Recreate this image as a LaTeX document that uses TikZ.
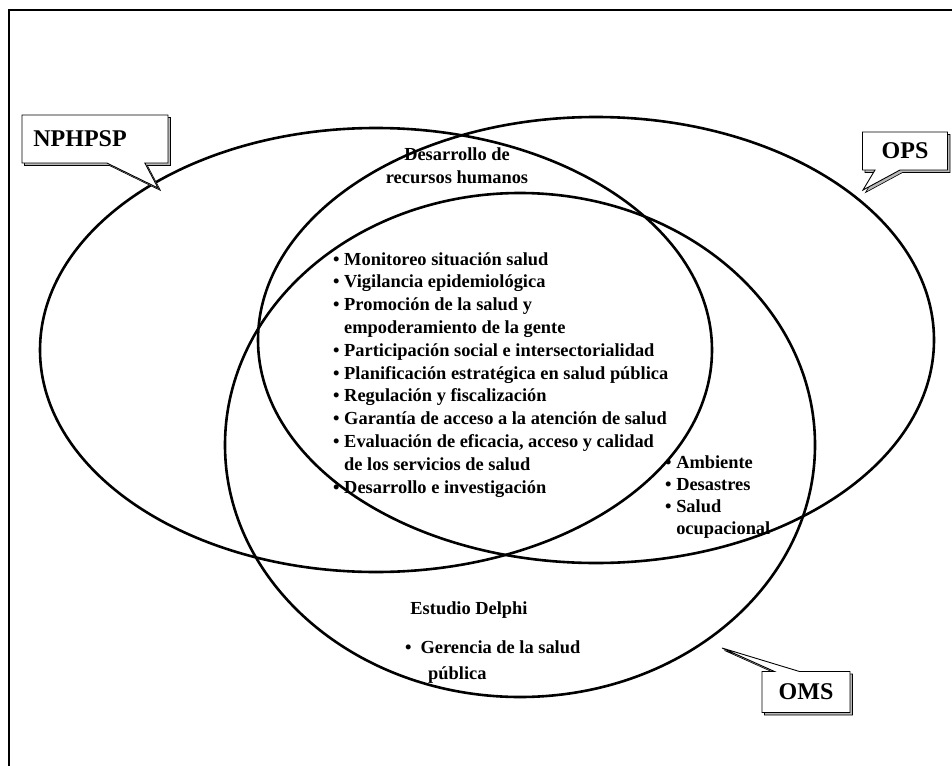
\documentclass[tikz,border=0pt]{standalone}
\usepackage{fontspec}
\setmainfont{Liberation Serif}
\usepackage{tikz}
\usetikzlibrary{shapes.callouts, shadows, positioning}

\begin{document}
\begin{tikzpicture}[x=1pt, y=-1pt, font=\bfseries]
        % Estilos
        \tikzstyle{conjunto} = [line width=2.6pt, black]
        \tikzstyle{marco} = [line width=2pt, black]
        \tikzstyle{texto} = [inner sep=0pt, align=left, font=\fontsize{18.4}{22.8}\selectfont\bfseries]
        \tikzstyle{globo} = [rectangle callout, draw=black, fill=white, line width=0.9pt, inner sep=0pt, font=\fontsize{24}{28}\selectfont\bfseries, general shadow={fill=gray!55, draw=black, line width=0.6pt, shadow xshift=2.5pt, shadow yshift=-2.5pt}]

        \useasboundingbox (0,0) rectangle (952,765);

        % Marco
        \draw[marco] (8.5,780) -- (8.5,10) -- (970,10);

        % Textos de las zonas
        \node[texto, align=center] (rrhh) at (457,166) {Desarrollo de\\recursos humanos};
        \node[texto, anchor=base west] (lista) at (333,493) {%
            \textbullet\ Monitoreo situación salud\\
            \textbullet\ Vigilancia epidemiológica\\
            \textbullet\ Promoción de la salud y\\
            \phantom{\textbullet\ }empoderamiento de la gente\\
            \textbullet\ Participación social e intersectorialidad\\
            \textbullet\ Planificación estratégica en salud pública\\
            \textbullet\ Regulación y fiscalización\\
            \textbullet\ Garantía de acceso a la atención de salud\\
            \textbullet\ Evaluación de eficacia, acceso y calidad\\
            \phantom{\textbullet\ }de los servicios de salud\\
            \textbullet\ Desarrollo e investigación};
        \node[texto, anchor=base west, font=\fontsize{18.4}{21.7}\selectfont\bfseries] (ambiente) at (665,534) {%
            \textbullet\ Ambiente\\
            \textbullet\ Desastres\\
            \textbullet\ Salud\\
            \phantom{\textbullet\ }ocupacional};
        \node[texto] (delphi) at (469,610) {Estudio Delphi};
        \node[texto, anchor=base west, font=\fontsize{18.4}{26}\selectfont\bfseries] (gerencia) at (405,679) {%
            \textbullet\hspace{9pt}Gerencia de la salud\\
            \hspace{23pt}pública};

        % Conjuntos
        \draw[conjunto] (376,350) ellipse [x radius=336pt, y radius=222pt];
        \draw[conjunto] (596,340) ellipse [x radius=338pt, y radius=223pt];
        \draw[conjunto] (520,445) ellipse [x radius=295pt, y radius=252pt];

        % Globos
        \coordinate (punta1) at (158,188);
        \coordinate (punta2) at (863,190);
        \coordinate (punta3) at (722,648);
        \node[globo, minimum width=146pt, minimum height=48pt, callout absolute pointer=(punta1), callout pointer width=38pt] (nphpsp) at (95,139) {NPHPSP\hspace*{30pt}};
        \node[globo, minimum width=85pt, minimum height=38pt, callout absolute pointer=(punta2), callout pointer width=25pt] (ops) at (905,151) {OPS};
        \node[globo, minimum width=88pt, minimum height=41pt, callout absolute pointer=(punta3), callout pointer width=25pt] (oms) at (806,692) {OMS};

    \end{tikzpicture}
\end{document}
